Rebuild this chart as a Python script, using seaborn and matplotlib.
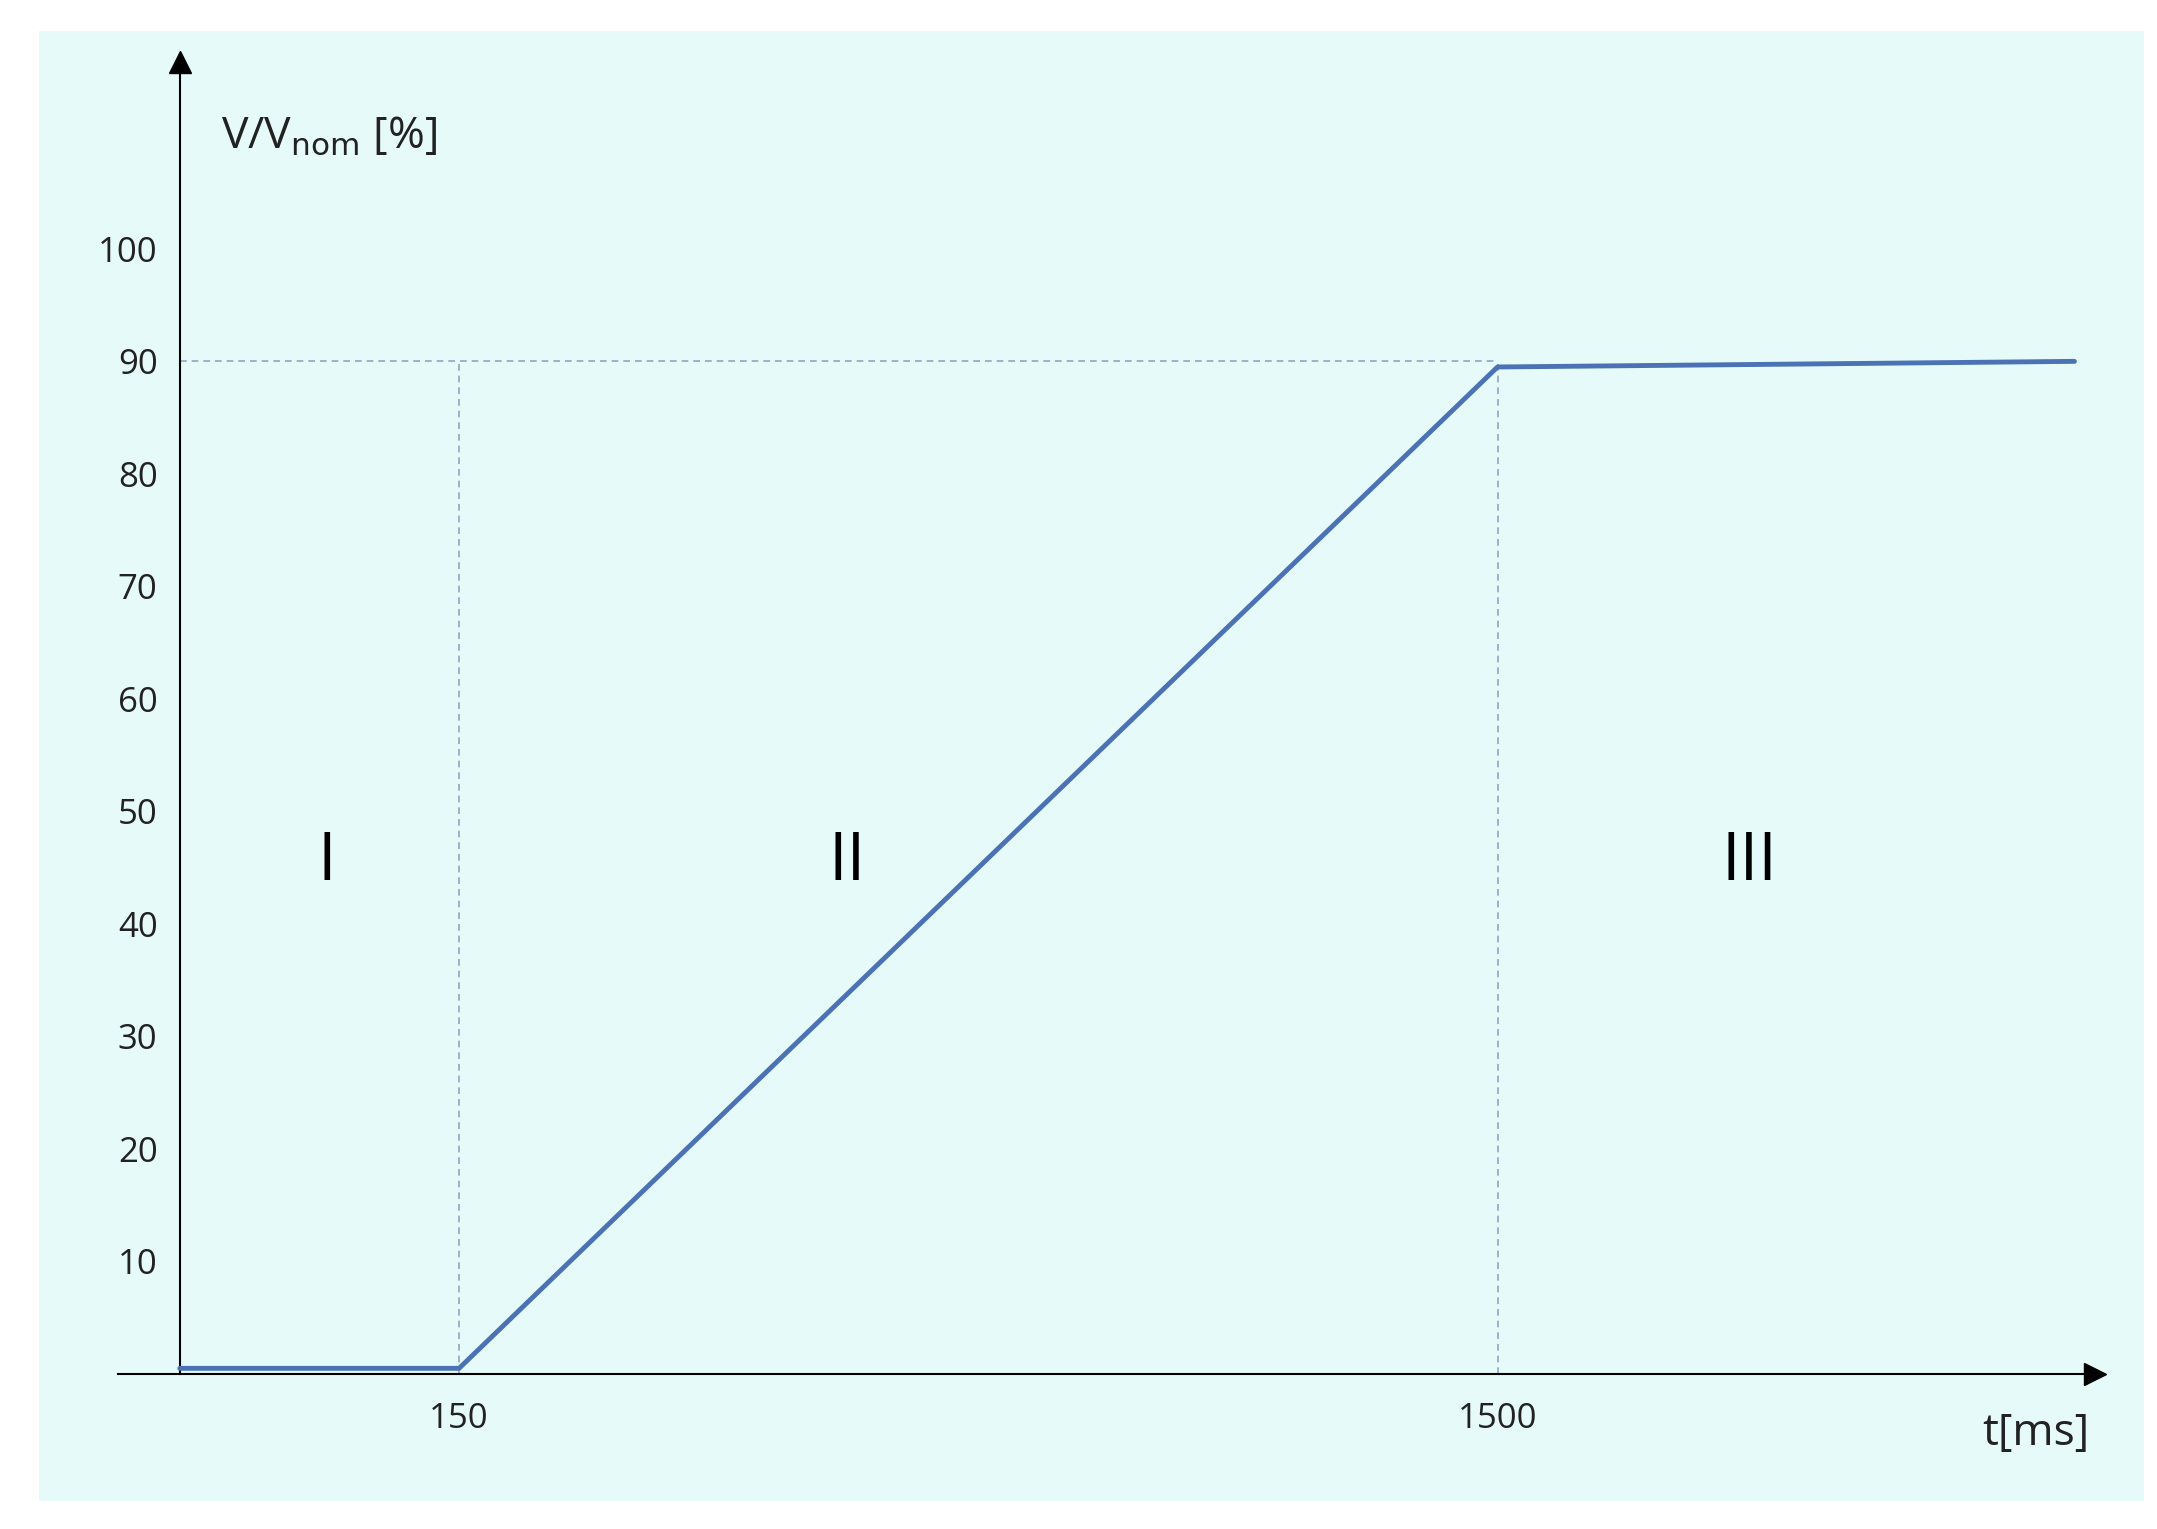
import numpy as np
import matplotlib
matplotlib.use("Agg")
import matplotlib.pyplot as plt
import seaborn as sns
from matplotlib.patches import Rectangle

# voltage ride-through profile
t_ms = [0, 150, 1500, 2250]
v_pct = [0.5, 0.5, 89.5, 90]
y_ticks = [10, 20, 30, 40, 50, 60, 70, 80, 90, 100]
x_ticks = [150, 1500]
zones = ["I", "II", "III"]
zone_t = [79, 655, 1827]
zone_v = [45.5, 45.5, 45.5]

sns.set_theme(style="white")
plt.rcParams["font.family"] = ["Open Sans", "DejaVu Sans"]

# schematic (non-linear) time axis
bp_t = np.array([-1000, 0, 150, 1500, 5000])
bp_px = np.array([-1000 * 202 / 150, 0, 202, 953, 953 + 3500 * 751 / 1350])
fwd = lambda t: np.interp(t, bp_t, bp_px)
inv = lambda p: np.interp(p, bp_px, bp_t)

fig = plt.figure(figsize=(21.57, 15.29), dpi=100)
bg = Rectangle((0.018, 0.018), 0.976, 0.962, transform=fig.transFigure,
               facecolor="#e6fafa", edgecolor="none", zorder=-10)
fig.patches.append(bg)
ax = fig.add_axes([0.0545, 0.1014, 0.9167, 0.858])
ax.set_zorder(5)
ax.patch.set_alpha(0)
ax.set_xscale("function", functions=(fwd, inv))
ax.set_xlim(inv(-45), inv(1385))
ax.set_ylim(0, 116.6)

df = {"t": t_ms, "v": v_pct}
sns.lineplot(x="t", y="v", data=df, ax=ax, color="#4a72b4", linewidth=3.5, zorder=3)

dash = dict(color="#8ea6c0", linewidth=1.2, linestyle=(0, (4, 3)), zorder=2)
ax.plot([0, 1500], [90, 90], **dash)
for xv in x_ticks:
    ax.plot([xv, xv], [0, 90], **dash)

for s in ["top", "right"]:
    ax.spines[s].set_visible(False)
ax.spines["left"].set_position(("data", 0))
for s in ["left", "bottom"]:
    ax.spines[s].set_color("black")
    ax.spines[s].set_linewidth(1.5)
ax.plot([0], [116.6], marker="^", color="black", markersize=16, clip_on=False)
ax.plot([inv(1385)], [0], marker=">", color="black", markersize=16, clip_on=False)

ax.set_yticks(y_ticks)
ax.set_yticklabels([str(v) for v in y_ticks], fontsize=25, color="#222222")
ax.set_xticks(x_ticks)
ax.set_xticklabels([str(v) for v in x_ticks], fontsize=25, color="#222222")
ax.tick_params(axis="y", length=0, pad=16)
ax.tick_params(axis="x", length=0, pad=20)
ax.minorticks_off()
ax.set_xlabel("")
ax.set_ylabel("")

ax.text(22, 110, r"V/V$_{\mathrm{nom}}$ [%]", fontsize=32, ha="left", va="center", color="#222222")
ax.text(2200, -5.3, "t[ms]", fontsize=32, ha="center", va="center", color="#222222")
for lab, xt, yv in zip(zones, zone_t, zone_v):
    ax.text(xt, yv, lab, fontsize=48, ha="center", va="center", color="black")

fig.savefig("out.png", dpi=100)
